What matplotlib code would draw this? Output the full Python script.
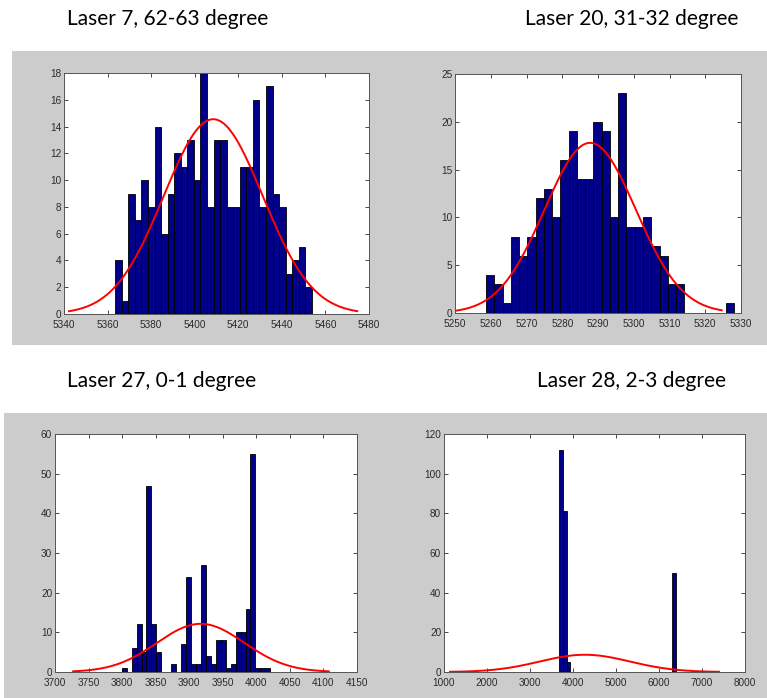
import numpy as np
import matplotlib.pyplot as plt
from matplotlib.patches import Rectangle

W, H = 767, 698

titles = ['Laser 7, 62-63 degree', 'Laser 20, 31-32 degree',
          'Laser 27, 0-1 degree', 'Laser 28, 2-3 degree']

# histogram counts (30 bins each) and the bin range
counts1 = [4, 1, 9, 7, 10, 8, 14, 6, 9, 12, 11, 13, 10, 18, 8,
           13, 13, 8, 8, 11, 11, 16, 8, 17, 9, 8, 3, 4, 5, 2]
range1 = (5363.5, 5453.8)
counts2 = [4, 3, 1, 8, 6, 8, 12, 13, 10, 16, 19, 14, 14, 20, 19,
           10, 23, 9, 9, 10, 7, 6, 3, 3, 0, 0, 0, 0, 0, 1]
range2 = (5258.7, 5328.0)
counts3 = [1, 0, 6, 12, 5, 47, 12, 5, 0, 0, 2, 0, 7, 24, 2,
           2, 27, 4, 2, 8, 8, 1, 2, 10, 10, 16, 55, 1, 1, 1]
range3 = (3799.4, 4020.8)
counts4 = [112, 81, 5, 0, 0, 0, 0, 0, 0, 0, 0, 0, 0, 0, 0,
           0, 0, 0, 0, 0, 0, 0, 0, 0, 0, 0, 0, 0, 0, 50]
range4 = (3669.6, 6386.0)

# normal fit: mean, sigma, peak height, drawn x range
fit1 = (5408.5, 22.7, 14.55, 5342.3, 5474.6)
fit2 = (5287.8, 12.8, 17.8, 5250.5, 5324.6)
fit3 = (3917.0, 65.0, 12.15, 3727.0, 4108.0)
fit4 = (4275.0, 1050.0, 8.7, 1140.0, 7395.0)

xticks = [np.arange(5340, 5481, 20), np.arange(5250, 5331, 10),
          np.arange(3700, 4151, 50), np.arange(1000, 8001, 1000)]
yticks = [np.arange(0, 19, 2), np.arange(0, 26, 5),
          np.arange(0, 61, 10), np.arange(0, 121, 20)]

# axes boxes in pixels: left, top, right, bottom
boxes = [(64, 73, 369, 314), (455, 74, 741, 313),
         (55, 434, 357, 672), (444, 434, 745, 672)]
title_pos = [(67, 25), (525, 25), (67, 387), (537, 387)]

fig = plt.figure(figsize=(W / 100, H / 100), dpi=100)
fig.patch.set_facecolor('white')

# gray figure backgrounds
for x0, y0, x1, y1 in [(12, 51, 767, 345), (4, 413, 767, 698)]:
    fig.patches.append(Rectangle((x0 / W, 1 - y1 / H), (x1 - x0) / W, (y1 - y0) / H,
                                 transform=fig.transFigure, facecolor='#cccccc',
                                 edgecolor='none', zorder=-5))

all_counts = [counts1, counts2, counts3, counts4]
all_ranges = [range1, range2, range3, range4]
all_fits = [fit1, fit2, fit3, fit4]

for i in range(4):
    l, t, r, b = boxes[i]
    ax = fig.add_axes([l / W, 1 - b / H, (r - l) / W, (b - t) / H])
    ax.set_facecolor('white')
    c = np.array(all_counts[i])
    lo, hi = all_ranges[i]
    w = (hi - lo) / len(c)
    left = lo + w * np.arange(len(c))
    m = c > 0
    ax.bar(left[m], c[m], width=w, align='edge', color='#000088',
           edgecolor='black', linewidth=0.6, zorder=2)

    mu, sd, pk, x0, x1 = all_fits[i]
    xx = np.linspace(x0, x1, 300)
    ax.plot(xx, pk * np.exp(-0.5 * ((xx - mu) / sd) ** 2), color='red', lw=1.4, zorder=3)

    ax.set_xticks(xticks[i])
    ax.set_yticks(yticks[i])
    ax.set_xlim(xticks[i][0], xticks[i][-1])
    ax.set_ylim(yticks[i][0], yticks[i][-1])
    ax.tick_params(direction='in', top=True, right=True, length=3, width=0.6,
                   labelsize=7.2, colors='#2a2a2a')
    ax.tick_params(axis='x', pad=4.5)
    ax.tick_params(axis='y', pad=2)
    for lab in ax.get_xticklabels() + ax.get_yticklabels():
        lab.set_fontfamily('Liberation Sans')
    for s in ax.spines.values():
        s.set_color('#555555')
        s.set_linewidth(0.7)

    tx, ty = title_pos[i]
    fig.text(tx / W, 1 - ty / H, titles[i], fontsize=15, family='Lato',
             ha='left', va='baseline', color='black')

fig.savefig('out.png', dpi=100)
